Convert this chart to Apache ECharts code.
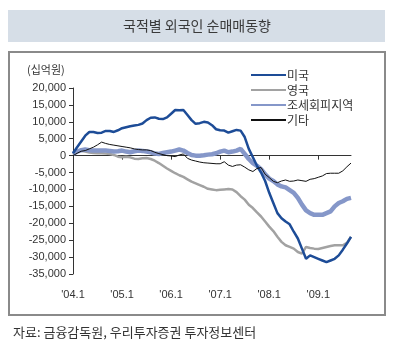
<!DOCTYPE html>
<html><head><meta charset="utf-8">
<script src="https://cdn.jsdelivr.net/npm/echarts@6/dist/echarts.min.js"></script>
<style>html,body{margin:0;padding:0;background:#fff}#c{width:401px;height:343px}</style>
</head><body><div id="c"></div>
<script>
const months = [
"'04.1","'04.2","'04.3","'04.4","'04.5","'04.6","'04.7","'04.8","'04.9","'04.10","'04.11","'04.12",
"'05.1","'05.2","'05.3","'05.4","'05.5","'05.6","'05.7","'05.8","'05.9","'05.10","'05.11","'05.12",
"'06.1","'06.2","'06.3","'06.4","'06.5","'06.6","'06.7","'06.8","'06.9","'06.10","'06.11","'06.12",
"'07.1","'07.2","'07.3","'07.4","'07.5","'07.6","'07.7","'07.8","'07.9","'07.10","'07.11","'07.12",
"'08.1","'08.2","'08.3","'08.4","'08.5","'08.6","'08.7","'08.8","'08.9","'08.10","'08.11","'08.12",
"'09.1","'09.2","'09.3","'09.4","'09.5","'09.6","'09.7","'09.8","'09.9"];
const seriesNames = ['미국','영국','조세회피지역','기타'];
const usa = [700,2500,4200,5900,7000,7000,6700,6800,7300,7300,
 7000,7500,8100,8400,8700,8900,9100,9500,10500,11200,
 11300,10900,10800,11300,12400,13500,13400,13500,12000,10500,
 9400,9600,10000,9800,9000,7800,7500,7400,6800,7200,
 7600,7400,5500,2000,-500,-3000,-5000,-7500,-11000,-14000,
 -17000,-18500,-19500,-20300,-22500,-24500,-27500,-30500,-29500,-30000,
 -30500,-31000,-31500,-31000,-30500,-29500,-27800,-26000,-24000];
const uk = [300,1300,1500,1200,900,800,700,700,600,500,
 200,-300,-500,-300,-500,-900,-1000,-800,-700,-1000,
 -1500,-2200,-3000,-3800,-4500,-5200,-5800,-6300,-7000,-7700,
 -8200,-8700,-9200,-9800,-10000,-10200,-10100,-10000,-9900,-10000,
 -10800,-12000,-13000,-14500,-15500,-16800,-18000,-19500,-21000,-22300,
 -24000,-25500,-26500,-27000,-27500,-28500,-29000,-27000,-27300,-27500,
 -27600,-27300,-27000,-26700,-26500,-26500,-26500,-25800,-24000];
const taxHaven = [500,1200,1600,1800,1600,1500,1500,1500,1500,1400,
 1200,1300,1500,1200,1000,1300,1500,1400,1200,1000,
 600,500,800,1000,1200,1500,1800,1500,800,200,
 0,0,100,300,400,700,1200,1500,1000,1200,
 1500,2000,500,-1000,-2200,-3000,-4000,-5500,-6800,-7500,
 -8500,-9100,-9400,-10200,-11000,-12500,-14500,-16200,-17000,-17500,
 -17500,-17500,-17000,-16500,-15000,-14000,-13500,-12800,-12500];
const others = [0,700,1300,1500,2000,2500,3200,4000,3600,3300,
 3100,2900,2700,2500,2300,2000,1800,1700,1700,1500,
 1000,600,300,0,-100,-300,200,500,-800,-1300,
 -1600,-1900,-2100,-2200,-2300,-2400,-2400,-1800,-2800,-3200,
 -2800,-2700,-3400,-4200,-4700,-3800,-3500,-5500,-6500,-7600,
 -8000,-7500,-7200,-7600,-7500,-7200,-7400,-7600,-7000,-6800,
 -6400,-6000,-5300,-5200,-5200,-5200,-4500,-3300,-2200];

const FONT = "'Liberation Sans', 'Noto Sans CJK KR', sans-serif";
const chart = echarts.init(document.getElementById('c'), null, {renderer:'canvas'});
chart.setOption({
  animation: false,
  backgroundColor: '#fff',
  textStyle: {fontFamily: FONT},
  graphic: [
    {type:'rect', shape:{x:8,y:10,width:377,height:32}, style:{fill:'#d6dee7'}, silent:true},
    {type:'text', x:197, y:26, style:{text:'국적별 외국인 순매매동향', font:"14px 'Noto Sans CJK KR', sans-serif", fill:'#3a3a3a', textAlign:'center', textVerticalAlign:'middle'}},
    {type:'rect', shape:{x:9,y:52,width:376,height:263}, style:{fill:'none', stroke:'#8a8a8a', lineWidth:2}, silent:true},
    {type:'text', x:27, y:70, style:{text:'(십억원)', font:"11px 'Noto Sans CJK KR', sans-serif", fill:'#333', textVerticalAlign:'middle'}},
    {type:'text', x:13, y:332, style:{text:'자료: 금융감독원, 우리투자증권 투자정보센터', font:"13px 'Noto Sans CJK KR', sans-serif", fill:'#333', textVerticalAlign:'middle'}}
  ],
  grid: {left:73, right:50, top:88, bottom:69, containLabel:false},
  legend: {
    orient:'vertical', left:245, top:64, itemWidth:35, itemHeight:14, itemGap:3,
    data: seriesNames,
    itemStyle:{opacity:0},
    textStyle:{fontSize:12, color:'#333', fontFamily:"'Noto Sans CJK KR', sans-serif", padding:[0,0,0,-4]}
  },
  xAxis: [
    {type:'category', data:months, boundaryGap:false, position:'top',
     axisLine:{onZero:true, lineStyle:{color:'#333', width:1}},
     axisTick:{show:true, inside:true, length:4, interval:11, lineStyle:{color:'#333'}},
     axisLabel:{show:false}, splitLine:{show:false}},
    {type:'category', data:months, boundaryGap:false, position:'bottom',
     axisLine:{show:false, onZero:false}, axisTick:{show:false},
     axisLabel:{interval:11, margin:15, fontSize:11, color:'#333', fontFamily:FONT},
     splitLine:{show:false}}
  ],
  yAxis: {
    type:'value', min:-35000, max:20000, interval:5000,
    axisLine:{show:true, lineStyle:{color:'#333'}},
    axisTick:{show:true, length:4, lineStyle:{color:'#333'}},
    axisLabel:{margin:7, fontSize:11, color:'#333', fontFamily:FONT,
      formatter: v => v.toLocaleString('en-US')},
    splitLine:{show:false}
  },
  series: [
    {name:seriesNames[0], type:'line', data:usa, xAxisIndex:0, symbol:'none', lineStyle:{color:'#1d4c97', width:2.5}, itemStyle:{color:'#1d4c97'}, z:4},
    {name:seriesNames[1], type:'line', data:uk, xAxisIndex:0, symbol:'none', lineStyle:{color:'#a2a2a2', width:2.5}, itemStyle:{color:'#a2a2a2'}, z:2},
    {name:seriesNames[2], type:'line', data:taxHaven, xAxisIndex:0, symbol:'none', lineStyle:{color:'#8597c9', width:4.5}, itemStyle:{color:'#8597c9'}, z:3},
    {name:seriesNames[3], type:'line', data:others, xAxisIndex:0, symbol:'none', lineStyle:{color:'#111', width:1}, itemStyle:{color:'#111'}, z:5}
  ]
});
</script>
</body></html>
